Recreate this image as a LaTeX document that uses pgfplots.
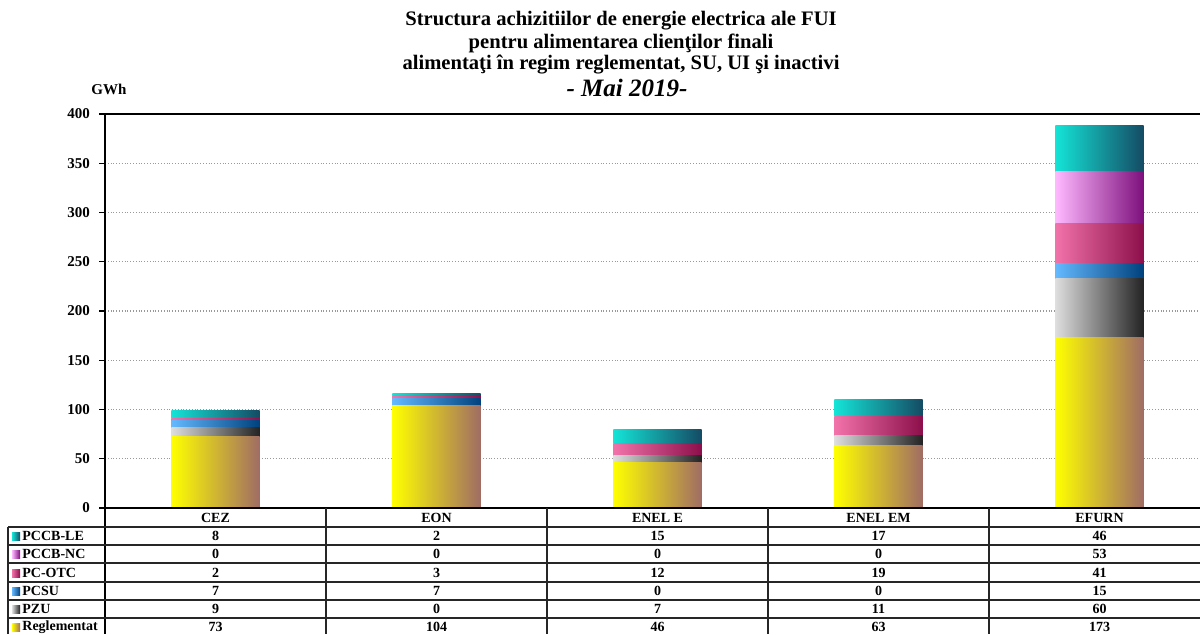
\documentclass[border=0pt]{standalone}
\usepackage{pgfplots}
\usepackage{pgfplotstable}
\pgfplotsset{compat=1.18}
\usepackage{fontspec}
\setmainfont{Liberation Serif}
\definecolor{regL}{RGB}{255,255,0}
\definecolor{regR}{RGB}{160,108,100}
\definecolor{pzuL}{RGB}{222,222,222}
\definecolor{pzuR}{RGB}{35,35,35}
\definecolor{pcsuL}{RGB}{100,185,255}
\definecolor{pcsuR}{RGB}{0,65,125}
\definecolor{otcL}{RGB}{242,115,170}
\definecolor{otcR}{RGB}{140,15,75}
\definecolor{ncL}{RGB}{255,185,255}
\definecolor{ncR}{RGB}{125,15,125}
\definecolor{leL}{RGB}{20,228,215}
\definecolor{leR}{RGB}{20,75,100}
\pgfplotstableread{
x reg pzu pcsu otc nc le
0 73 9 7 2 0 8
1 104 0 7 3 0 2
2 46 7 0 12 0 15
3 63 11 0 19 0 17
4 173 60 15 41 53 46
}\data
\pgfplotsset{segbar/.style n args={3}{draw=none, bar shift=0pt, left color=#1, right color=#2, restrict x to domain=#3:#3, forget plot}}
\begin{document}
\begin{tikzpicture}
\path[use as bounding box] (0pt,0pt) rectangle (600pt,317pt);
\begin{axis}[at={(52.5pt,63pt)}, anchor=south west, scale only axis,
  width=552.5pt, height=197pt,
  ybar, bar width=0.4,
  xmin=-0.5, xmax=4.5, ymin=0, ymax=400,
  ytick={0,50,...,400}, xtick=\empty,
  ymajorgrids, grid style={densely dotted, gray!80, line width=0.7pt},
  axis line style={draw=none},
  tick align=outside, major tick length=3pt,
  y tick style={black, line width=0.6pt},
  yticklabel style={font=\fontsize{7.5}{9}\selectfont\bfseries, xshift=-1pt},
  /pgf/number format/assume math mode=true,
  clip=false]
% each bar is drawn as its own plot, from the top segment down, so that each gets its own left-to-right shading
\pgfplotsinvokeforeach{0,...,4}{
\addplot[segbar={leL}{leR}{#1}] table[x=x, y expr=\thisrow{reg}+\thisrow{pzu}+\thisrow{pcsu}+\thisrow{otc}+\thisrow{nc}+\thisrow{le}]{\data};
\addplot[segbar={ncL}{ncR}{#1}] table[x=x, y expr=\thisrow{reg}+\thisrow{pzu}+\thisrow{pcsu}+\thisrow{otc}+\thisrow{nc}]{\data};
\addplot[segbar={otcL}{otcR}{#1}] table[x=x, y expr=\thisrow{reg}+\thisrow{pzu}+\thisrow{pcsu}+\thisrow{otc}]{\data};
\addplot[segbar={pcsuL}{pcsuR}{#1}] table[x=x, y expr=\thisrow{reg}+\thisrow{pzu}+\thisrow{pcsu}]{\data};
\addplot[segbar={pzuL}{pzuR}{#1}] table[x=x, y expr=\thisrow{reg}+\thisrow{pzu}]{\data};
\addplot[segbar={regL}{regR}{#1}] table[x=x, y=reg]{\data};
}
\end{axis}
\begin{scope}[x=0.5pt,y=-0.5pt,shift={(0pt,317pt)}]
% frame lines
\draw[line width=1pt] (105,114) -- (1200,114);
\draw[line width=1.1pt] (105,114) -- (105,634);
\draw[line width=1.1pt] (105,508) -- (1200,508);
\foreach \yy in {527,545,563,582,600,618} \draw[line width=0.7pt, black!85] (8,\yy) -- (1200,\yy);
\foreach \xx in {326,547,768,989} \draw[line width=0.7pt, black!85] (\xx,508) -- (\xx,634);
\draw[line width=0.7pt, black!85] (8,527) -- (8,634);
% title
\node[font=\fontsize{10.3}{12}\selectfont\bfseries] at (621,21) {Structura achizitiilor de energie electrica ale FUI};
\node[font=\fontsize{10.3}{12}\selectfont\bfseries] at (621,43) {pentru alimentarea clienţilor finali};
\node[font=\fontsize{10.3}{12}\selectfont\bfseries] at (621,65) {alimentaţi în regim reglementat, SU, UI şi inactivi};
\node[font=\fontsize{12.5}{14}\selectfont\bfseries\itshape] at (627,88) {- Mai 2019-};
\node[font=\fontsize{7.5}{9}\selectfont\bfseries] at (109,89) {GWh};
% header
\foreach \c/\n in {0/CEZ,1/EON,2/ENEL E,3/ENEL EM,4/EFURN}
  \node[font=\fontsize{7}{8}\selectfont\bfseries] at (215.5+221*\c,518) {\n};
% table rows
\foreach \col/\lab/\yy/\cl/\cr in {le/PCCB-LE/536/leL/leR, nc/PCCB-NC/554/ncL/ncR, otc/PC-OTC/573/otcL/otcR, pcsu/PCSU/591/pcsuL/pcsuR, pzu/PZU/609/pzuL/pzuR, reg/Reglementat/627/regL/regR}{
  \shade[left color=\cl, right color=\cr] (12,\yy-4) rectangle (20,\yy+4);
  \node[font=\fontsize{7}{8}\selectfont\bfseries, anchor=west, inner sep=0pt] at (22,\yy) {\lab};
  \foreach \c in {0,...,4}{
    \pgfplotstablegetelem{\c}{\col}\of\data
    \node[font=\fontsize{7}{8}\selectfont\bfseries] at (215.5+221*\c,\yy) {\pgfplotsretval};
  }
}
\end{scope}
\end{tikzpicture}
\end{document}
